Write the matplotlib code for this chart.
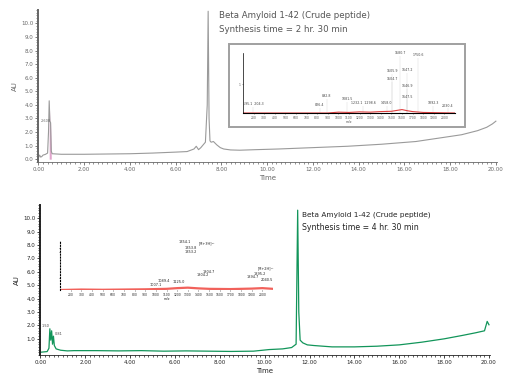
import matplotlib
matplotlib.use("Agg")
import matplotlib.pyplot as plt
from matplotlib.patches import Rectangle
from matplotlib.ticker import MultipleLocator

# top chromatogram (2 hr 30 min synthesis)
top_time = [0.00, 0.05, 0.10, 0.15, 0.20, 0.30, 0.40, 0.44, 0.47, 0.50, 0.53, 0.56, 0.60, 0.80,
            1.00, 2.00, 3.00, 4.00, 5.00, 6.00, 6.50, 6.80, 6.90, 7.00, 7.10, 7.20, 7.30, 7.38,
            7.42, 7.46, 7.50, 7.55, 7.65, 7.80, 7.95, 8.10, 8.40, 8.80, 9.50, 10.50, 12.00,
            13.50, 15.00, 16.50, 17.50, 18.50, 19.20, 19.60, 19.85, 20.00]
top_au = [0.10, 0.30, 0.15, 0.20, 0.30, 0.35, 0.45, 2.00, 4.30, 2.80, 2.70, 0.60, 0.40, 0.38,
          0.36, 0.36, 0.38, 0.40, 0.45, 0.52, 0.56, 0.75, 0.95, 0.70, 0.85, 1.05, 1.25, 4.00,
          10.90, 3.00, 1.35, 1.25, 1.30, 1.05, 0.85, 0.75, 0.68, 0.66, 0.70, 0.75, 0.85,
          0.95, 1.10, 1.30, 1.55, 1.80, 2.10, 2.35, 2.60, 2.80]
top_fill = (0.47, 0.56)

# bottom chromatogram
bot_time = [0.00, 0.30, 0.38, 0.42, 0.46, 0.50, 0.54, 0.58, 0.62, 0.70, 0.90, 1.20, 1.50, 2.50,
            3.50, 4.50, 5.50, 6.50, 7.50, 8.50, 9.50, 10.20, 10.80, 11.20, 11.40, 11.47, 11.52,
            11.58, 11.70, 11.90, 12.20, 12.60, 13.00, 14.00, 15.00, 16.00, 17.00, 18.00, 18.80,
            19.40, 19.80, 19.92, 20.00]
bot_au = [0.00, 0.05, 0.30, 1.75, 0.90, 1.60, 0.60, 1.20, 0.50, 0.25, 0.15, 0.10, 0.12, 0.12,
          0.10, 0.12, 0.08, 0.10, 0.08, 0.06, 0.08, 0.20, 0.25, 0.35, 0.60, 10.60, 3.00, 0.90,
          0.70, 0.55, 0.50, 0.45, 0.40, 0.40, 0.45, 0.55, 0.75, 1.00, 1.25, 1.45, 1.60, 2.30, 2.05]

# mass spectrum insets (m/z, intensity, label)
top_ms_mz = [195, 826, 892, 1081, 1232, 1458, 1506, 1506, 1581, 1647, 1647, 1647, 1751, 1892, 2030]
top_ms_int = [0.20, 0.19, 0.50, 0.40, 0.24, 0.24, 1.36, 1.10, 2.00, 1.40, 0.84, 0.46, 1.94, 0.24, 0.16]
top_ms_lab = ["195.1  204.3", "826.4", "892.8", "1081.5", "1232.1  1298.6", "1458.0", "1505.9",
              "1504.7", "1580.7", "1647.2", "1646.9", "1647.5", "1750.6", "1892.3", "2030.4"]
top_ms_base_mz = [100, 900, 1000, 1100, 1200, 1300, 1400, 1500, 1550, 1600, 1650, 1700, 1800, 2100]
top_ms_base = [0.0, 0.0, 0.03, 0.02, 0.04, 0.03, 0.05, 0.06, 0.09, 0.12, 0.08, 0.05, 0.02, 0.0]

bot_ms_mz = [1274, 1330, 1330, 1480, 1500, 1440, 1070, 1000, 1220, 1912, 1978, 2040, 2040]
bot_ms_int = [1.96, 1.72, 1.52, 1.90, 0.68, 0.56, 0.28, 0.12, 0.26, 0.48, 0.60, 0.82, 0.32]
bot_ms_lab = ["1354.1", "1353.8", "1353.2", "[M+3H]³⁺", "1804.7", "1804.2", "1089.4",
              "1007.1", "1125.0", "1894.7", "1895.2", "[M+2H]²⁺", "2040.5"]
bot_ms_base_mz = [100, 300, 500, 700, 900, 1100, 1200, 1300, 1400, 1500, 1700, 1900, 2000, 2100]
bot_ms_base = [0.0, 0.02, 0.01, 0.02, 0.03, 0.05, 0.08, 0.10, 0.07, 0.05, 0.04, 0.06, 0.08, 0.05]

time_ticks = [0, 2, 4, 6, 8, 10, 12, 14, 16, 18, 20]
ms_ticks = list(range(200, 2100, 100))


def style_chrom(ax, col, ylabels_from):
    ax.set_xlim(-0.02, 20.05)
    ax.set_ylim(-0.2, 11.0)
    ax.set_xticks(time_ticks)
    ax.set_xticklabels([f"{t:.2f}" for t in time_ticks])
    ax.set_yticks([v for v in range(ylabels_from, 11)])
    ax.set_yticklabels([f"{v:.1f}" for v in range(ylabels_from, 11)])
    ax.xaxis.set_minor_locator(MultipleLocator(0.2))
    ax.yaxis.set_minor_locator(MultipleLocator(0.2))
    ax.tick_params(labelsize=4, colors=col, length=2, width=0.6, pad=1.5)
    ax.tick_params(which="minor", length=1.2, width=0.5, colors=col)
    for s in ["top", "right"]:
        ax.spines[s].set_visible(False)
    ax.spines["left"].set_linewidth(1.4)
    ax.spines["left"].set_color(col)
    ax.spines["bottom"].set_linewidth(0.6)
    ax.spines["bottom"].set_color(col)
    ax.set_xlabel("Time", fontsize=5, color=col, labelpad=2)
    ax.set_ylabel("AU", fontsize=5, color=col, labelpad=2)


def style_ms(ax, col):
    ax.set_xlim(100, 2100)
    ax.set_ylim(0, 2.1)
    ax.set_xticks(ms_ticks)
    ax.set_xticklabels([str(m) for m in ms_ticks])
    ax.tick_params(labelsize=2.2, colors=col, length=1, width=0.4, pad=0.8)
    ax.set_xlabel("m/z", fontsize=2.5, color=col, labelpad=0.5)
    ax.patch.set_alpha(0)


fig = plt.figure(figsize=(5.24, 3.80), dpi=100)

# ---- top panel
ax1 = fig.add_axes([0.0725, 0.574, 0.876, 0.40])
ax1.plot(top_time, top_au, color="#9a9a9a", linewidth=0.8)
i0, i1 = top_time.index(top_fill[0]), top_time.index(top_fill[1])
ax1.fill_between(top_time[i0:i1 + 1], 0, top_au[i0:i1 + 1], color="#d98fc0", alpha=0.8, linewidth=0)
ax1.text(0.12, 2.75, "2.608", fontsize=2.5, color="#666666")
style_chrom(ax1, "#666666", 0)
ax1.text(7.9, 10.4, "Beta Amyloid 1-42 (Crude peptide)", fontsize=6.2, color="#555555")
ax1.text(7.9, 9.35, "Synthesis time = 2 hr. 30 min", fontsize=6.2, color="#555555")

fig.patches.append(Rectangle((0.437, 0.666), 0.450, 0.218, transform=fig.transFigure,
                             facecolor="white", edgecolor="#a0a0a0", linewidth=1.4, zorder=3))
ax1i = fig.add_axes([0.4637, 0.7026, 0.4046, 0.158], zorder=4)
ax1i.vlines(top_ms_mz, 0, top_ms_int, color="#d8d8d8", linewidth=0.3)
ax1i.plot(top_ms_base_mz, top_ms_base, color="#e04040", linewidth=0.8)
for m, v, lab in zip(top_ms_mz, top_ms_int, top_ms_lab):
    ax1i.text(m, v + 0.03, lab, fontsize=2.3, color="#444444", ha="center", va="bottom")
style_ms(ax1i, "#555555")
ax1i.set_yticks([1])
ax1i.set_yticklabels(["1"])
for s in ["top", "right"]:
    ax1i.spines[s].set_visible(False)
ax1i.spines["left"].set_linewidth(0.5)
ax1i.spines["bottom"].set_linewidth(0.8)

# ---- bottom panel
ax2 = fig.add_axes([0.0763, 0.066, 0.859, 0.395])
ax2.plot(bot_time, bot_au, color="#12955a", linewidth=0.9)
style_chrom(ax2, "#222222", 1)
ax2.text(0.05, 1.85, "1.50", fontsize=2.5, color="#444444")
ax2.text(0.62, 1.3, "0.81", fontsize=2.5, color="#444444")
ax2.text(11.65, 10.1, "Beta Amyloid 1-42 (Crude peptide)", fontsize=5.3, color="#222222")
ax2.text(11.65, 9.15, "Synthesis time = 4 hr. 30 min", fontsize=5.6, color="#222222")

ax2i = fig.add_axes([0.1145, 0.2368, 0.4065, 0.13], zorder=4)
ax2i.plot(bot_ms_base_mz, bot_ms_base, color="#ee3a32", linewidth=1.6, alpha=0.8)
for m, v, lab in zip(bot_ms_mz, bot_ms_int, bot_ms_lab):
    ax2i.text(m, v, lab, fontsize=2.5, color="#222222", ha="center", va="bottom")
style_ms(ax2i, "#222222")
ax2i.set_yticks([0.5, 1.6, 1.8])
ax2i.set_yticklabels(["", "", ""])
for s in ["top", "right", "bottom"]:
    ax2i.spines[s].set_visible(False)
ax2i.spines["left"].set_linestyle(":")
ax2i.spines["left"].set_linewidth(0.8)

fig.savefig("out.png", dpi=100)
